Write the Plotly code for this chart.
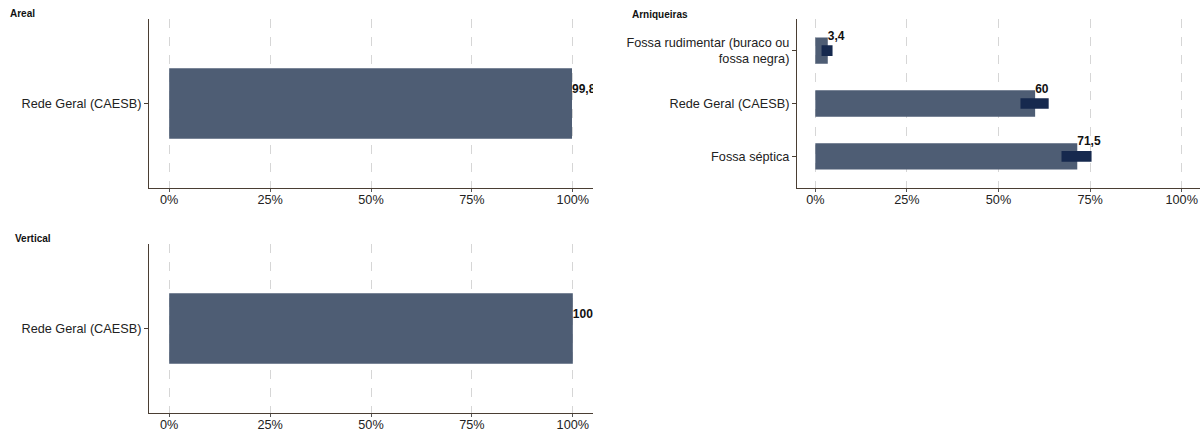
import plotly.graph_objects as go

# ---- data ----
areal_cats = ["Rede Geral (CAESB)"]
areal_vals = [99.8]
areal_labels = ["99,8"]

vert_cats = ["Rede Geral (CAESB)"]
vert_vals = [100.0]
vert_labels = ["100"]

arn_cats = ["Fossa séptica", "Rede Geral (CAESB)", "Fossa rudimentar (buraco ou<br>fossa negra)"]
arn_vals = [71.5, 60.0, 3.4]
arn_low = [67.2, 56.0, 1.7]
arn_high = [75.4, 63.7, 4.7]
arn_labels = ["71,5", "60", "3,4"]

x_ticks = [0, 25, 50, 75, 100]
x_ticklabels = ["0%", "25%", "50%", "75%", "100%"]

BAR = "#4e5d74"
CI = "#16294e"
AXIS = "#4a3e33"
W, H = 1203, 432

fig = go.Figure()

panels = [
    ("Areal", areal_cats, areal_vals, areal_labels, None, None, "x", "y", (149, 593), (19, 189)),
    ("Arniqueiras", arn_cats, arn_vals, arn_labels, arn_low, arn_high, "x2", "y2", (797, 1200), (19, 189)),
    ("Vertical", vert_cats, vert_vals, vert_labels, None, None, "x3", "y3", (149, 593), (245, 415)),
]

layout_axes = {}
for i, (name, cats, vals, labels, low, high, xa, ya, xd, yd) in enumerate(panels):
    n = len(cats)
    pos = list(range(1, n + 1))
    fig.add_trace(go.Bar(
        x=vals, y=pos, orientation="h", width=0.5, marker=dict(color=BAR, line=dict(width=0)),
        xaxis=xa, yaxis=ya, showlegend=False, hoverinfo="skip"))
    if low is not None:
        fig.add_trace(go.Bar(
            x=[h - l for l, h in zip(low, high)], base=low, y=pos, orientation="h", width=0.2,
            marker=dict(color=CI, line=dict(width=0)),
            xaxis=xa, yaxis=ya, showlegend=False, hoverinfo="skip"))
    px_per_unit = (yd[1] - yd[0]) / (n - 1 + 1.2)
    off = 14 / px_per_unit
    fig.add_trace(go.Scatter(
        x=vals, y=[p + off for p in pos], mode="text", text=labels,
        textposition="middle right", textfont=dict(family="Liberation Sans, Arial", size=12, color="#111111", weight="bold"),
        cliponaxis=True, xaxis=xa, yaxis=ya, showlegend=False, hoverinfo="skip"))

    sfx = "" if i == 0 else str(i + 1)
    layout_axes["xaxis" + sfx] = dict(
        domain=[xd[0] / W, xd[1] / W], range=[-5, 105], anchor=ya,
        tickvals=x_ticks, ticktext=x_ticklabels, showgrid=True,
        gridcolor="#d6d6d6", griddash="dash", gridwidth=1, zeroline=False,
        showline=True, linecolor=AXIS, linewidth=1.2, ticks="outside", ticklen=3,
        ticklabelstandoff=-3,
        tickcolor="#555555", tickfont=dict(family="Liberation Sans, Arial", size=12.7, color="#222222"),
        fixedrange=True)
    layout_axes["yaxis" + sfx] = dict(
        domain=[1 - yd[1] / H, 1 - yd[0] / H], range=[0.4, n + 0.6], anchor=xa,
        tickvals=pos, ticktext=cats, showgrid=False, zeroline=False,
        showline=True, linecolor=AXIS, linewidth=1.2, ticks="outside", ticklen=4,
        tickcolor=AXIS, tickfont=dict(family="Liberation Sans, Arial", size=12.7, color="#222222"),
        fixedrange=True)

fig.update_layout(**layout_axes)
fig.update_layout(
    width=W, height=H, margin=dict(l=0, r=0, t=0, b=0),
    paper_bgcolor="white", plot_bgcolor="white", barmode="overlay",
    annotations=[
        dict(text="<b>Areal</b>", x=8 / W, y=1 - 14 / H, xref="paper", yref="paper",
             xanchor="left", yanchor="middle", showarrow=False,
             font=dict(family="Liberation Sans, Arial", size=10, color="#111111")),
        dict(text="<b>Arniqueiras</b>", x=630 / W, y=1 - 15 / H, xref="paper", yref="paper",
             xanchor="left", yanchor="middle", showarrow=False,
             font=dict(family="Liberation Sans, Arial", size=10, color="#111111")),
        dict(text="<b>Vertical</b>", x=13 / W, y=1 - 240 / H, xref="paper", yref="paper",
             xanchor="left", yanchor="middle", showarrow=False,
             font=dict(family="Liberation Sans, Arial", size=10, color="#111111")),
    ],
)

fig.write_html("out.html", config={"displayModeBar": False},
               post_script="document.body.style.margin='0';document.body.style.overflow='hidden';")
